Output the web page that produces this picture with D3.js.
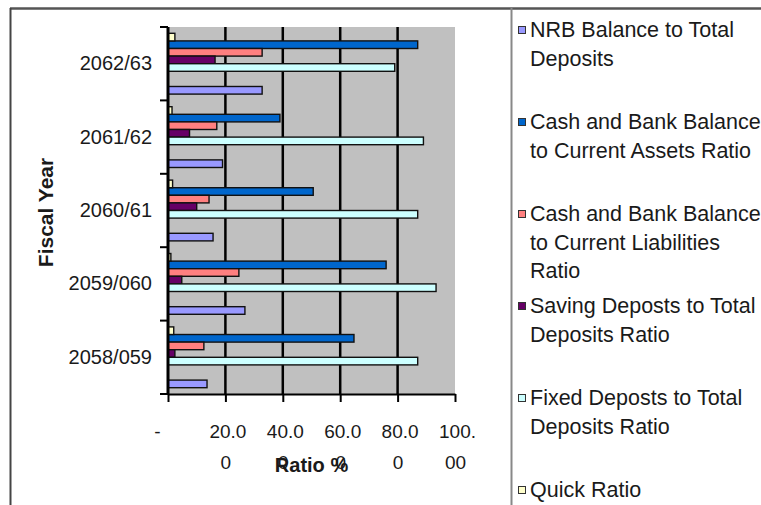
<!DOCTYPE html>
<html>
<head>
<meta charset="utf-8">
<script src="https://cdn.jsdelivr.net/npm/d3@7"></script>
<style>
  html, body { margin: 0; padding: 0; background: #ffffff; }
  svg { display: block; }
  text { font-family: "Liberation Sans", Arial, sans-serif; fill: #1a1a1a; }
</style>
</head>
<body>
<svg id="chart" width="761" height="505"></svg>
<script>
// ---------------- data ----------------
const categories = ["2058/059", "2059/060", "2060/61", "2061/62", "2062/63"];

const nrbBalance      = [13.6, 26.8, 15.7, 19.0, 32.8];
const cashToAssets    = [64.8, 76.0, 50.6, 39.0, 87.0];
const cashToLiabs     = [12.5, 24.7, 14.3, 17.0, 32.8];
const savingDeposits  = [2.4, 4.8, 10.0, 7.5, 16.4];
const fixedDeposits   = [87.0, 93.4, 87.0, 89.0, 79.0];
const quickRatio      = [2.0, 1.0, 1.6, 1.4, 2.4];

const xTicks = [0, 20, 40, 60, 80, 100];
const xTickLabels = ["-", "20.00", "40.00", "60.00", "80.00", "100.00"];

const seriesNames = [
  "NRB Balance to Total Deposits",
  "Cash and Bank Balance to Current Assets Ratio",
  "Cash and Bank Balance to Current Liabilities Ratio",
  "Saving Deposts to Total Deposits Ratio",
  "Fixed Deposts to Total Deposits Ratio",
  "Quick Ratio"
];
const legendLines = [
  ["NRB Balance to Total", "Deposits"],
  ["Cash and Bank Balance", "to Current Assets Ratio"],
  ["Cash and Bank Balance", "to Current Liabilities", "Ratio"],
  ["Saving Deposts to Total", "Deposits Ratio"],
  ["Fixed Deposts to Total", "Deposits Ratio"],
  ["Quick Ratio"]
];
const seriesColors = ["#9999FF", "#0066CC", "#FF8080", "#660066", "#CCFFFF", "#FFFFCC"];
const seriesValues = [nrbBalance, cashToAssets, cashToLiabs, savingDeposits, fixedDeposits, quickRatio];

// order of bar slots inside each category, top to bottom (two empty slots)
const slotOrder = [seriesNames[5], seriesNames[1], seriesNames[2], seriesNames[3], seriesNames[4], "empty-a", "empty-b", seriesNames[0]];

// ---------------- drawing ----------------
const svg = d3.select("#chart");
const plot = { left: 168, right: 455, top: 27, bottom: 394 };

// frame lines
svg.append("line").attr("x1", 10).attr("x2", 761).attr("y1", 8.5).attr("y2", 8.5)
  .attr("stroke", "#555").attr("stroke-width", 2.5);
svg.append("line").attr("x1", 10.5).attr("x2", 10.5).attr("y1", 8).attr("y2", 505)
  .attr("stroke", "#444").attr("stroke-width", 2);
svg.append("line").attr("x1", 511.5).attr("x2", 511.5).attr("y1", 8).attr("y2", 505)
  .attr("stroke", "#888").attr("stroke-width", 2);

const x = d3.scaleLinear().domain([0, 100]).range([plot.left, plot.right]);
const y = d3.scaleBand().domain(categories.slice().reverse()).range([plot.top, plot.bottom]).padding(0);
const slot = d3.scaleBand().domain(slotOrder).range([0, y.bandwidth()]).paddingInner(0).paddingOuter(0.83);

// plot background
svg.append("rect").attr("x", plot.left).attr("y", plot.top)
  .attr("width", plot.right - plot.left).attr("height", plot.bottom - plot.top)
  .attr("fill", "#C0C0C0");

// gridlines
svg.append("g").selectAll("line").data(xTicks.filter(t => t > 0 && t < 100)).join("line")
  .attr("x1", d => x(d)).attr("x2", d => x(d))
  .attr("y1", plot.top).attr("y2", plot.bottom)
  .attr("stroke", "#000").attr("stroke-width", 2.5);

// bars
const rows = [];
seriesNames.forEach((name, si) => {
  categories.forEach((c, ci) => {
    rows.push({ name, cat: c, value: seriesValues[si][ci], color: seriesColors[si] });
  });
});
svg.append("g").selectAll("rect").data(rows).join("rect")
  .attr("x", x(0))
  .attr("y", d => y(d.cat) + slot(d.name))
  .attr("width", d => x(d.value) - x(0))
  .attr("height", slot.bandwidth())
  .attr("fill", d => d.color)
  .attr("stroke", "#111")
  .attr("stroke-width", 1.4);

// x axis
const xAxis = d3.axisBottom(x).tickValues(xTicks).tickSize(8).tickSizeOuter(0).tickFormat(() => "");
const gx = svg.append("g").attr("transform", `translate(0,${plot.bottom})`).call(xAxis);
gx.select(".domain").attr("stroke", "#000").attr("stroke-width", 2);
gx.selectAll(".tick line").attr("stroke", "#000").attr("stroke-width", 2);

gx.selectAll(".tick").each(function (d, i) {
  const g = d3.select(this);
  const label = xTickLabels[i];
  const t = g.append("text").attr("text-anchor", "middle").attr("font-size", 19).attr("fill", "#1a1a1a");
  if (label === "-") {
    t.attr("x", -11).attr("y", 44).text(label);
  } else {
    const first = label.slice(0, 4);
    const rest = label.slice(4);
    t.append("tspan").attr("x", 2).attr("y", 44).text(first);
    t.append("tspan").attr("x", 0).attr("y", 75).text(rest);
  }
});

// y axis
const yAxis = d3.axisLeft(y).tickSize(0).tickPadding(16);
const gy = svg.append("g").attr("transform", `translate(${plot.left},0)`).call(yAxis);
gy.select(".domain").remove();
gy.selectAll(".tick text").attr("font-size", 20).attr("fill", "#1a1a1a").attr("font-family", "Liberation Sans, Arial, sans-serif");

const boundaries = y.domain().map(c => y(c)).concat([plot.bottom]);
svg.append("g").selectAll("line").data(boundaries).join("line")
  .attr("x1", plot.left - 8).attr("x2", plot.left)
  .attr("y1", d => d).attr("y2", d => d)
  .attr("stroke", "#000").attr("stroke-width", 2);
svg.append("line").attr("x1", plot.left).attr("x2", plot.left)
  .attr("y1", plot.top).attr("y2", plot.bottom)
  .attr("stroke", "#000").attr("stroke-width", 3);

// axis titles
svg.append("text").attr("x", (plot.left + plot.right) / 2).attr("y", 472)
  .attr("text-anchor", "middle").attr("font-size", 20).attr("font-weight", "bold")
  .text("Ratio %");
svg.append("text").attr("transform", `translate(53,${(plot.top + plot.bottom) / 2 + 2}) rotate(-90)`)
  .attr("text-anchor", "middle").attr("font-size", 21).attr("font-weight", "bold")
  .text("Fiscal Year");

// legend
const legend = svg.append("g");
legendLines.forEach((lines, i) => {
  const cy = 30 + i * 92;
  legend.append("rect").attr("x", 518.5).attr("y", cy - 3.5).attr("width", 7).attr("height", 7)
    .attr("fill", seriesColors[i]).attr("stroke", "#333").attr("stroke-width", 1);
  const t = legend.append("text").attr("font-size", 21.5).attr("fill", "#1a1a1a");
  lines.forEach((ln, j) => {
    t.append("tspan").attr("x", 530).attr("y", cy + 7 + j * 28.5).text(ln);
  });
});
</script>
</body>
</html>
